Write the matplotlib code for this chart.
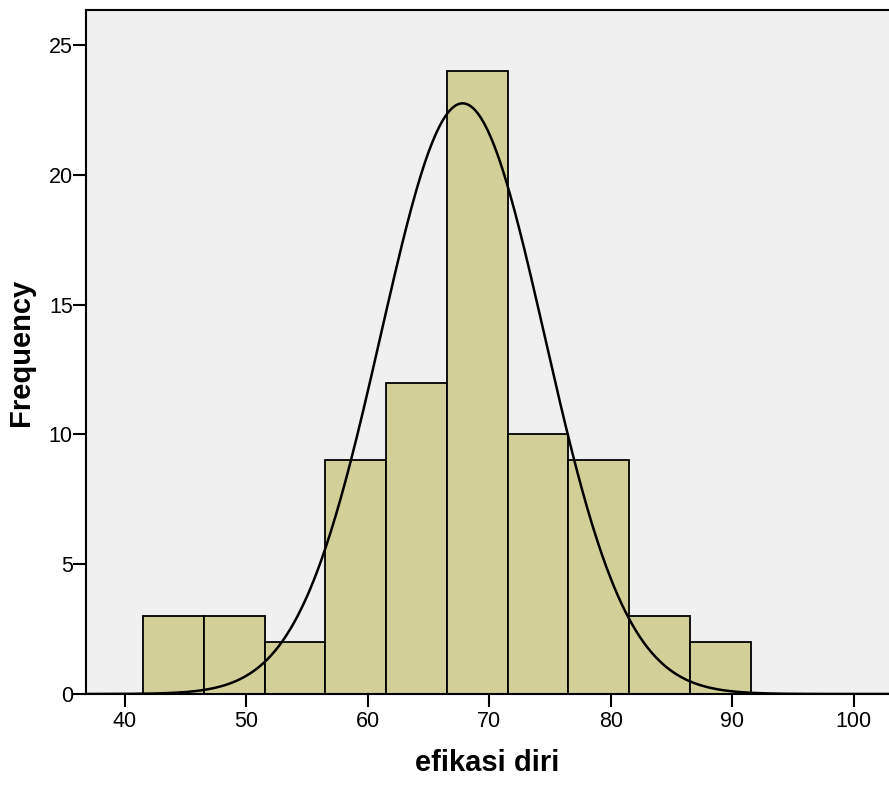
import numpy as np
import matplotlib
matplotlib.use("Agg")
import matplotlib.pyplot as plt

plt.rcParams['font.family'] = ['Liberation Sans', 'DejaVu Sans']

bin_edges = [41.5, 46.5, 51.5, 56.5, 61.5, 66.5, 71.5, 76.5, 81.5, 86.5, 91.5]
counts = [3, 3, 2, 9, 12, 24, 10, 9, 3, 2]
mean_val = 67.8
sd_val = 6.75
n_total = sum(counts)
bin_width = 5
x_ticks = [40, 50, 60, 70, 80, 90, 100]
y_ticks = [0, 5, 10, 15, 20, 25]

fig = plt.figure(figsize=(8.89, 7.89), dpi=100)
ax = fig.add_axes([86/889, 1-694/789, 1-86/889, (694-10)/789])
ax.set_facecolor('#f0f0f0')

lefts = bin_edges[:-1]
ax.bar(lefts, counts, width=bin_width, align='edge', color='#d3cf98',
       edgecolor='black', linewidth=1.3, zorder=2)

xs = np.linspace(36.8, 103, 500)
ys = n_total * bin_width / (sd_val * np.sqrt(2*np.pi)) * np.exp(-0.5*((xs-mean_val)/sd_val)**2)
ax.plot(xs, ys, color='black', linewidth=1.8, zorder=3)

ax.set_xlim(36.8, 102.9)
ax.set_ylim(0, 26.35)
ax.set_xticks(x_ticks)
ax.set_yticks(y_ticks)
ax.tick_params(axis='both', direction='out', length=9.5, width=1.5, labelsize=15.5)
ax.tick_params(axis='x', pad=3)
ax.tick_params(axis='y', pad=0)
for s in ['left', 'top', 'bottom']:
    ax.spines[s].set_linewidth(1.5)
ax.spines['right'].set_visible(False)

ax.set_xlabel('efikasi diri', fontsize=21, fontweight='bold', labelpad=12)
ax.set_ylabel('Frequency', fontsize=21, fontweight='bold', labelpad=10)

fig.savefig('out.png', dpi=100)
